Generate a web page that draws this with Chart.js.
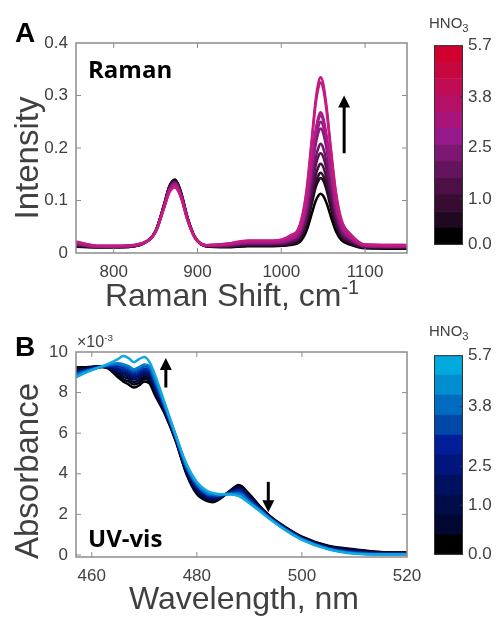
<!DOCTYPE html>
<html><head><meta charset="utf-8">
<script src="https://cdn.jsdelivr.net/npm/chart.js@4.4.1/dist/chart.umd.min.js"></script>
<style>
html,body{margin:0;padding:0;background:#fff;}
#wrap{position:relative;width:496px;height:618px;overflow:hidden;font-family:"Liberation Sans",Arial,sans-serif;color:#404040;}
canvas{position:absolute;}
.t{position:absolute;white-space:nowrap;line-height:1;}
.bold{font-family:"Open Sans",sans-serif;font-weight:700;color:#000;}
.letter{font-family:"Liberation Sans",Arial,sans-serif;font-weight:700;color:#000;font-size:28px;}
.axt{font-size:32px;color:#404040;}
.axy{font-size:33px;color:#404040;}
.rot{transform:translate(-50%,-50%) rotate(-90deg);}
.sup{position:relative;top:-0.6em;font-size:0.62em;}
.sub{position:relative;top:0.35em;font-size:0.75em;}
</style></head><body><div id="wrap">
<canvas id="raman" width="496" height="315" style="left:0;top:0;width:496px;height:315px"></canvas>
<canvas id="uv" width="496" height="303" style="left:0;top:315px;width:496px;height:303px"></canvas>
<canvas id="cbR" width="66" height="230" style="left:430px;top:30px;width:66px;height:230px"></canvas>
<canvas id="cbU" width="66" height="230" style="left:430px;top:340px;width:66px;height:230px"></canvas>

<div class="t letter" style="left:15px;top:19px">A</div>
<div class="t letter" style="left:15px;top:333px">B</div>
<div class="t bold" style="left:88px;top:57px;font-size:24px">Raman</div>
<div class="t bold" style="left:88px;top:526px;font-size:24px">UV-vis</div>
<div class="t axy rot" style="left:26px;top:158px">Intensity</div>
<div class="t axy rot" style="left:26px;top:471px">Absorbance</div>
<div class="t axt" style="left:232px;top:279px;transform:translateX(-50%)">Raman Shift, cm<span class="sup">-1</span></div>
<div class="t axt" style="left:244px;top:582px;transform:translateX(-50%)">Wavelength, nm</div>
<div class="t" style="left:77px;top:334px;font-size:16px">&times;10<span class="sup">-3</span></div>
<div class="t" style="left:429px;top:15px;font-size:15px">HNO<span class="sub">3</span></div>
<div class="t" style="left:429px;top:323px;font-size:15px">HNO<span class="sub">3</span></div>
</div>
<script>
// ---------- Raman data ----------
const ramanShift = [755,780,810,835,850,860,866,870,873,876,881,888,897,910,935,960,990,1010,1022,1030,1036,1041,1045,1047,1050,1054,1059,1065,1072,1082,1100,1150];
const intensity01 = [.012,.011,.011,.018,.042,.092,.126,.137,.140,.134,.112,.068,.030,.013,.011,.013,.013,.015,.021,.042,.073,.099,.111,.113,.109,.095,.070,.042,.024,.016,.009,.008];
const intensity02 = [.013,.011,.011,.018,.042,.091,.125,.136,.139,.133,.111,.068,.030,.013,.012,.014,.014,.016,.025,.052,.091,.125,.140,.143,.138,.120,.087,.052,.029,.018,.010,.009];
const intensity03 = [.014,.011,.012,.018,.042,.091,.124,.134,.137,.132,.110,.067,.030,.013,.012,.015,.015,.017,.027,.056,.097,.134,.150,.153,.147,.128,.093,.056,.031,.020,.011,.010];
const intensity04 = [.015,.012,.012,.018,.042,.090,.123,.133,.136,.131,.109,.067,.030,.014,.013,.016,.016,.020,.030,.062,.108,.148,.167,.170,.164,.142,.104,.062,.034,.022,.012,.011];
const intensity05 = [.016,.012,.012,.018,.041,.089,.122,.132,.135,.130,.108,.066,.030,.014,.013,.017,.017,.021,.033,.069,.121,.166,.187,.190,.183,.159,.116,.069,.038,.024,.012,.011];
const intensity06 = [.017,.012,.012,.018,.041,.089,.121,.131,.134,.129,.107,.066,.030,.014,.014,.018,.018,.023,.035,.075,.132,.181,.204,.208,.200,.174,.126,.075,.041,.026,.013,.012];
const intensity07 = [.017,.012,.013,.019,.041,.088,.120,.130,.133,.128,.107,.065,.029,.014,.015,.019,.019,.024,.039,.084,.150,.206,.233,.237,.228,.198,.143,.084,.045,.028,.013,.012];
const intensity08 = [.018,.013,.013,.019,.041,.088,.119,.129,.132,.127,.106,.065,.029,.014,.015,.020,.020,.026,.041,.089,.158,.218,.245,.250,.241,.209,.151,.089,.048,.029,.014,.013];
const intensity09 = [.019,.013,.013,.019,.041,.087,.118,.128,.130,.125,.105,.064,.029,.015,.016,.021,.021,.027,.043,.093,.166,.228,.257,.262,.252,.219,.158,.093,.050,.031,.014,.013];
const intensity10 = [.020,.013,.013,.019,.040,.087,.117,.127,.129,.124,.104,.064,.029,.015,.016,.022,.022,.028,.044,.096,.170,.234,.263,.268,.258,.224,.162,.096,.052,.032,.015,.014];
const intensity11 = [.021,.014,.014,.019,.040,.086,.115,.125,.127,.122,.103,.063,.029,.015,.017,.023,.023,.032,.051,.114,.205,.283,.319,.325,.313,.271,.196,.114,.060,.036,.016,.015];
const intensity12 = [.022,.014,.014,.019,.040,.085,.114,.123,.125,.121,.102,.063,.029,.015,.018,.024,.024,.033,.053,.118,.211,.292,.329,.335,.323,.279,.202,.118,.062,.037,.016,.015];
const ramanSeries = [intensity01,intensity02,intensity03,intensity04,intensity05,intensity06,intensity07,intensity08,intensity09,intensity10,intensity11,intensity12];
const ramanColors = ['#000000','#1c0818','#300c2c','#44103e','#581452','#6c1664','#801a76','#921a84','#a21a88','#ae1a88','#bc1a84','#c41c80'];
const ramanXTicks = [800,900,1000,1100];
const ramanYTicks = [0,0.1,0.2,0.3,0.4];

// ---------- UV-vis data (x 10^-3) ----------
const wavelength = [457,459,461,463,465,466,467,468,469,470,471,472,474,476,478,480,482,483,484,486,488,490,492,494,497,500,505,510,515,520];
const absorb01 = [9.25,9.25,9.3,9.2,8.75,8.55,8.4,8.25,8.35,8.55,8.45,7.9,6.9,5.6,4.0,3.0,2.65,2.6,2.7,3.1,3.45,3.0,2.4,1.9,1.35,0.9,0.45,0.28,0.15,0.12];
const absorb02 = [9.2,9.22,9.28,9.22,8.85,8.65,8.55,8.4,8.48,8.67,8.58,8.0,6.95,5.63,4.05,3.07,2.7,2.65,2.73,3.08,3.4,2.95,2.38,1.88,1.33,0.88,0.43,0.25,0.14,0.11];
const absorb03 = [9.15,9.2,9.27,9.24,8.95,8.78,8.68,8.52,8.6,8.78,8.7,8.1,7.0,5.66,4.1,3.13,2.75,2.7,2.76,3.07,3.35,2.9,2.35,1.87,1.32,0.87,0.41,0.23,0.12,0.1];
const absorb04 = [9.1,9.18,9.26,9.26,9.0,8.9,8.8,8.65,8.72,8.88,8.8,8.2,7.05,5.7,4.15,3.2,2.8,2.75,2.8,3.06,3.3,2.85,2.33,1.85,1.3,0.85,0.39,0.2,0.1,0.09];
const absorb05 = [9.05,9.15,9.25,9.28,9.1,9.0,8.9,8.75,8.83,8.98,8.9,8.3,7.1,5.73,4.2,3.27,2.85,2.8,2.83,3.05,3.25,2.8,2.3,1.84,1.29,0.83,0.37,0.18,0.09,0.08];
const absorb06 = [9.0,9.12,9.24,9.3,9.2,9.1,9.0,8.85,8.94,9.08,9.0,8.4,7.15,5.76,4.25,3.33,2.9,2.85,2.86,3.04,3.2,2.75,2.27,1.82,1.27,0.82,0.35,0.15,0.07,0.07];
const absorb07 = [8.95,9.1,9.23,9.32,9.3,9.2,9.1,8.95,9.05,9.18,9.1,8.5,7.2,5.8,4.3,3.4,2.95,2.9,2.9,3.03,3.15,2.7,2.25,1.8,1.26,0.8,0.33,0.13,0.06,0.06];
const absorb08 = [8.9,9.07,9.22,9.34,9.4,9.3,9.2,9.05,9.15,9.28,9.2,8.6,7.25,5.83,4.35,3.45,3.0,2.95,2.93,3.02,3.05,2.65,2.22,1.79,1.24,0.78,0.31,0.1,0.04,0.04];
const absorb09 = [8.85,9.05,9.21,9.36,9.45,9.4,9.3,9.15,9.25,9.38,9.3,8.7,7.3,5.86,4.4,3.5,3.05,3.0,2.96,3.0,3.0,2.6,2.2,1.77,1.22,0.77,0.3,0.08,0.03,0.03];
const absorb10 = [8.75,9.0,9.2,9.4,9.65,9.8,9.7,9.5,9.65,9.75,9.5,8.9,7.4,5.9,4.5,3.6,3.15,3.05,3.0,2.98,2.9,2.55,2.15,1.75,1.2,0.75,0.28,0.06,0.02,0.02];
const uvSeries = [absorb01,absorb02,absorb03,absorb04,absorb05,absorb06,absorb07,absorb08,absorb09,absorb10];
const uvColors = ['#000000','#00061a','#000a30','#000e48','#001262','#001a88','#0030a8','#0058bc','#0080cc','#10a8e0'];
const uvXTicks = [460,480,500,520];
const uvYTicks = [0,2,4,6,8,10];

// ---------- colour bars ----------
const hno3Labels = ['0.0','1.0','2.5','3.8','5.7'];
const ramanBarColors = ['#000000','#200820','#360c32','#4c1046','#64145c','#7c1872','#96188c','#a8147a','#b41066','#c00c52','#c80640','#d2002e'];
const ramanBarTickPos = [0,2.76,5.88,8.88,12];
const uvBarColors = ['#000000','#000832','#000c48','#001060','#00167c','#001e98','#0048a8','#006cc0','#008ed0','#00aadc'];
const uvBarTickPos = [0,2.48,4.42,7.43,10];

// arrows (data coordinates)
const ramanArrows = [{x:1075, from:0.19, to:0.30}];
const uvArrows = [{x:474.1, from:8.25, to:9.7},{x:493.6, from:3.6, to:2.1}];

const FONT = {family:'"Liberation Sans", Arial, sans-serif', size:17};
const TXT = '#404040';

const framePlugin = {
  id:'frame',
  afterDatasetsDraw(chart){
    const {ctx, chartArea:a, scales} = chart;
    const x = scales.x, y = scales.y;
    ctx.save();
    ctx.strokeStyle = '#8c8c8c';
    ctx.lineWidth = 1.5;
    ctx.strokeRect(a.left, a.top, a.right-a.left, a.bottom-a.top);
    ctx.lineWidth = 1;
    const L = 5;
    ctx.beginPath();
    x.ticks.forEach(t=>{
      const p = x.getPixelForValue(t.value);
      if (p <= a.left+1 || p >= a.right-1) return;
      ctx.moveTo(p, a.bottom); ctx.lineTo(p, a.bottom-L);
      ctx.moveTo(p, a.top); ctx.lineTo(p, a.top+L);
    });
    y.ticks.forEach(t=>{
      const p = y.getPixelForValue(t.value);
      if (p <= a.top+1 || p >= a.bottom-1) return;
      ctx.moveTo(a.left, p); ctx.lineTo(a.left+L, p);
      ctx.moveTo(a.right, p); ctx.lineTo(a.right-L, p);
    });
    ctx.stroke();
    const arrows = chart.options.plugins.frame.arrows || [];
    arrows.forEach(ar=>{
      const px = x.getPixelForValue(ar.x);
      const p0 = y.getPixelForValue(ar.from);
      const p1 = y.getPixelForValue(ar.to);
      const dir = p1 < p0 ? -1 : 1;
      const head = 12, hw = 6;
      ctx.strokeStyle = '#000'; ctx.fillStyle = '#000'; ctx.lineWidth = 3;
      ctx.beginPath(); ctx.moveTo(px, p0); ctx.lineTo(px, p1 - dir*head*0.6); ctx.stroke();
      ctx.beginPath();
      ctx.moveTo(px, p1);
      ctx.lineTo(px-hw, p1 - dir*head);
      ctx.lineTo(px+hw, p1 - dir*head);
      ctx.closePath(); ctx.fill();
    });
    ctx.restore();
  }
};

function makePanel(id, xs, series, colors, xr, yr, xticks, yticks, yfmt, pad, xAxisH, arrows){
  const datasets = series.map((arr,i)=>({
    data: xs.map((x,j)=>({x:x, y:arr[j]})),
    borderColor: colors[i],
    borderWidth: 2.5,
    pointRadius: 0,
    fill: false,
    cubicInterpolationMode: 'monotone',
    tension: 0.4,
    order: series.length - i
  }));
  return new Chart(document.getElementById(id), {
    type:'line',
    data:{datasets},
    options:{
      responsive:false, animation:false, devicePixelRatio:1,
      layout:{padding:pad},
      plugins:{legend:{display:false}, tooltip:{enabled:false}, frame:{arrows}},
      scales:{
        x:{type:'linear', min:xr[0], max:xr[1],
           grid:{display:false, drawTicks:false}, border:{display:false},
           afterBuildTicks:s=>{s.ticks = xticks.map(v=>({value:v}));},
           afterFit:s=>{s.height = xAxisH;},
           ticks:{font:FONT, color:TXT, padding:9, maxRotation:0, autoSkip:false, callback:v=>String(v)}},
        y:{type:'linear', min:yr[0], max:yr[1],
           grid:{display:false, drawTicks:false}, border:{display:false},
           afterBuildTicks:s=>{s.ticks = yticks.map(v=>({value:v}));},
           afterFit:s=>{s.width = 76;},
           ticks:{font:FONT, color:TXT, padding:8, autoSkip:false, callback:yfmt}}
      }
    },
    plugins:[framePlugin]
  });
}

makePanel('raman', ramanShift, ramanSeries, ramanColors, [755,1150], [0,0.4], ramanXTicks, ramanYTicks,
  v => v===0 ? '0' : Number(v).toFixed(1), {left:0,right:89,top:43,bottom:0}, 62, ramanArrows);
makePanel('uv', wavelength, uvSeries, uvColors, [457,520], [-0.1,10], uvXTicks, uvYTicks,
  v => String(v), {left:0,right:89,top:37,bottom:0}, 61, uvArrows);

const cbFrame = {
  id:'cbframe',
  afterDatasetsDraw(chart){
    const {ctx, chartArea:a, scales:{y}} = chart;
    ctx.save();
    ctx.strokeStyle = '#333'; ctx.lineWidth = 1;
    ctx.strokeRect(a.left+0.5, a.top+0.5, a.right-a.left-1, a.bottom-a.top-1);
    ctx.beginPath();
    y.ticks.forEach(t=>{
      const p = y.getPixelForValue(t.value);
      if (p <= a.top+1 || p >= a.bottom-1) return;
      ctx.moveTo(a.right, p); ctx.lineTo(a.right-3, p);
    });
    ctx.stroke();
    ctx.restore();
  }
};

function makeBar(id, colors, pos, labels, pad){
  return new Chart(document.getElementById(id), {
    type:'bar',
    data:{labels:[''], datasets: colors.map(c=>({data:[1], backgroundColor:c, borderWidth:0, barPercentage:1, categoryPercentage:1}))},
    options:{
      responsive:false, animation:false, devicePixelRatio:1,
      layout:{padding:pad},
      plugins:{legend:{display:false}, tooltip:{enabled:false}},
      scales:{
        x:{display:false, stacked:true},
        y:{stacked:true, position:'right', min:0, max:colors.length,
           grid:{display:false, drawTicks:false}, border:{display:false},
           afterBuildTicks:s=>{s.ticks = pos.map(v=>({value:v}));},
           afterFit:s=>{s.width = 33;},
           ticks:{font:FONT, color:TXT, padding:5, autoSkip:false, callback:(v,i)=>labels[i]}}
      }
    },
    plugins:[cbFrame]
  });
}
makeBar('cbR', ramanBarColors, ramanBarTickPos, hno3Labels, {left:4, right:0, top:13, bottom:13});
makeBar('cbU', uvBarColors, uvBarTickPos, hno3Labels, {left:4, right:0, top:12, bottom:12});
</script>
</body></html>
